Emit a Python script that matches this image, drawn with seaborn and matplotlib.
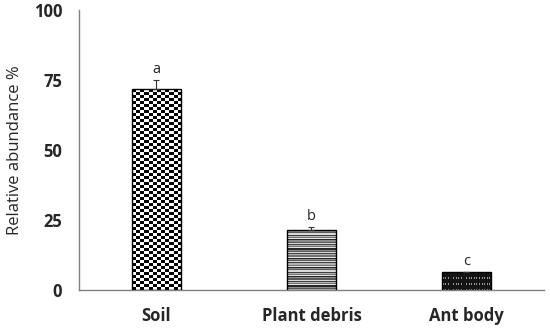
import matplotlib
matplotlib.use("Agg")
import matplotlib.pyplot as plt
import seaborn as sns
import numpy as np
import pandas as pd

categories = ["Soil", "Plant debris", "Ant body"]
abundance = [71.7, 21.4, 6.3]
error_up = [3.4, 1.0, 0.3]
letters = ["a", "b", "c"]

df = pd.DataFrame({"source": categories, "abundance": abundance})

sns.set_style("white")
plt.rcParams["font.family"] = ["Open Sans", "DejaVu Sans"]

fig = plt.figure(figsize=(5.5, 3.3), dpi=100)
ax = fig.add_axes([0.1436, 0.1212, 0.8454, 0.8485])

sns.barplot(data=df, x="source", y="abundance", width=0.32, color="white",
            edgecolor="black", linewidth=1.0, errorbar=None, ax=ax, zorder=3)


# texture images (fill patterns only)
def checker(h, w):
    yy, xx = np.indices((h, w))
    return ((yy + xx) % 2).astype(float)


def stripes(h, w):
    greys = np.array([0.15, 0.55, 0.35, 0.85, 0.25, 0.7, 0.45, 0.9])
    rows = np.resize(greys, h)
    return np.repeat(rows[:, None], w, axis=1)


def dots(h, w):
    yy, xx = np.indices((h, w))
    img = np.full((h, w), 0.08)
    img[(yy % 3 == 1) & (xx % 3 == 1)] = 0.6
    return img


patterns = [(checker, 4.0), (stripes, 1.6), (dots, 1.3)]
bars = [p for p in ax.patches]
for bar, (fn, cell) in zip(bars, patterns):
    x0, y0 = bar.get_x(), bar.get_y()
    w, h = bar.get_width(), bar.get_height()
    # pixel size of the bar to pick number of cells
    p0 = ax.transData.transform((x0, y0))
    p1 = ax.transData.transform((x0 + w, y0 + h))
    nw = max(1, int(round(abs(p1[0] - p0[0]) / cell)))
    nh = max(1, int(round(abs(p1[1] - p0[1]) / cell)))
    img = fn(nh, nw)
    im = ax.imshow(img, cmap="gray", vmin=0, vmax=1, extent=(x0, x0 + w, y0, y0 + h),
                   aspect="auto", interpolation="nearest", zorder=2.5)
    im.set_clip_path(bar)
    bar.set_facecolor("none")

xs = np.arange(len(categories))
ax.errorbar(xs, abundance, yerr=[np.zeros(len(error_up)), error_up], fmt="none",
            ecolor="#333333", elinewidth=0.8, capsize=2.5, capthick=0.8, zorder=4)
for x, v, e, t in zip(xs, abundance, error_up, letters):
    ax.text(x, v + e + 1.0, t, ha="center", va="bottom", fontsize=10.5, color="#222222")

ax.set_xlim(-0.5, 2.5)
ax.set_ylim(0, 100)
ax.set_yticks([0, 25, 50, 75, 100])
ax.set_xlabel("")
ax.set_ylabel("Relative abundance %", fontsize=12, labelpad=8)
ax.tick_params(axis="both", length=0, labelsize=12)
ax.tick_params(axis="y", pad=12)
ax.tick_params(axis="x", pad=12)
for lab in ax.get_xticklabels() + ax.get_yticklabels():
    lab.set_fontweight("bold")

sns.despine(ax=ax)
for s in ["left", "bottom"]:
    ax.spines[s].set_color("#808080")
    ax.spines[s].set_linewidth(1.0)

fig.savefig("out.png", dpi=100)
